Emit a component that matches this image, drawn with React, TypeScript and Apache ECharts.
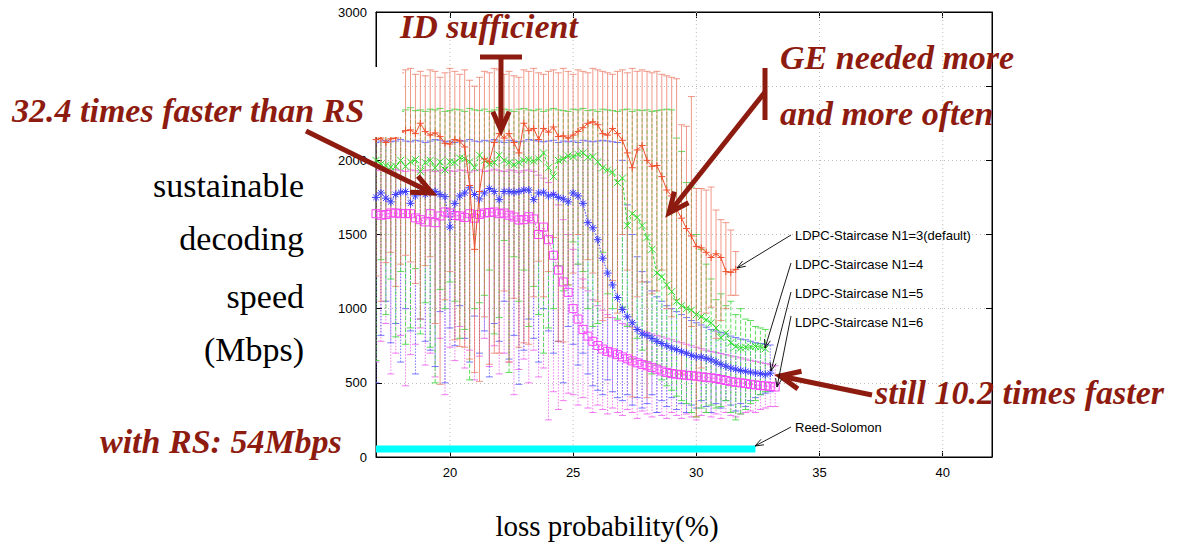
import React, { useEffect, useRef } from 'react';
import * as echarts from 'echarts';

// loss probability (%) sample positions
const xs = [17.0,17.2,17.4,17.6,17.8,18.0,18.2,18.4,18.6,18.8,19.0,19.2,19.4,19.6,19.8,
  20.0,20.2,20.4,20.6,20.8,21.0,21.2,21.4,21.6,21.8,22.0,22.2,22.4,22.6,22.8,23.0,23.2,23.4,23.6,23.8,24.0,24.2,24.4,24.6,24.8,
  25.0,25.2,25.4,25.6,25.8,26.0,26.2,26.4,26.6,26.8,27.0,27.2,27.4,27.6,27.8,28.0,28.2,28.4,28.6,28.8,29.0,29.2,29.4,29.6,29.8,
  30.0,30.2,30.4,30.6,30.8,31.0,31.2,31.4,31.6,31.8,32.0,32.2,32.4,32.6,32.8,33.0,33.2];

const xTickValues = [20, 25, 30, 35, 40];

// LDPC-Staircase N1=3 (default)
const n3Mean = [2140,2150,2120,2145,2150,2190,2200,2205,2180,2250, 2195,2170,2185,2160,2115,2110,2140,2130,2090,1830,
  1400,1790,2010,1990,2120,2180,2150,2180,2120,2050, 2250,2200,2215,2140,2215,2190,2225,2160,2165,2150,
  2170,2195,2220,2250,2260,2240,2180,2170,2215,2180, 2135,2050,1950,2070,2100,2000,1960,1965,1890,1800,
  1760,1670,1610,1540,1490,1420,1410,1380,1345,1370, 1345,1250,1245,1265];
const n3High = [2580,2600,2610,2570,2600,2590,2610,2620,2580,2600, 2570,2610,2600,2560,2590,2620,2600,2580,2610,2540,
  2500,2560,2600,2590,2620,2610,2580,2600,2570,2560, 2610,2600,2620,2590,2580,2600,2610,2590,2620,2600,
  2580,2610,2600,2590,2620,2610,2600,2590,2580,2600, 2610,2590,2620,2600,2610,2600,2590,2600,2580,2570,
  2560,2550,2240,2230,2430,1810,1810,1800,1820,1665, 1600,1580,1530,1385];
const n3Low = [1220,1050,1310,1380,1150,1300,1360,1315,1170,930, 1290,1350,900,490,1060,1250,790,745,740,660,
  570,510,945,625,700,700,1120,640,1070,740, 770,760,1080,1320,1080,1250,1480,780,775,1160,
  1240,1500,1140,1330,1240,1050,920,940,1190,970, 1500,1260,405,1080,1180,400,1100,1120,1260,1000,
  945,1060,560,700,880,270,600,970,1010,800, 920,1000,1090,1090];

// LDPC-Staircase N1=4
const n4Mean = [2000,1975,1965,1955,1960,2000,1960,1990,2005,1925, 1985,2000,1950,1990,1935,1990,1985,2015,2010,1990,
  1950,2035,2000,1975,1985,2035,2000,1985,1970,1985, 2000,2005,1995,2010,2050,1950,1890,2000,2010,2030,
  2025,2040,2050,2020,2025,1990,1950,1935,1920,1850, 1880,1560,1640,1615,1560,1480,1400,1240,1215,1160,
  1115,1050,1020,1000,990,960,945,925,905,870, 805,835,770,745,735,740,742,745,742,730];
const n4High = [2330,2340,2350,2335,2345,2330,2340,2355,2335,2340, 2330,2345,2340,2350,2330,2335,2345,2340,2330,2350,
  2340,2335,2345,2330,2340,2355,2345,2340,2330,2345, 2350,2340,2335,2345,2330,2340,2350,2340,2335,2330,
  2345,2340,2350,2335,2340,2330,2345,2340,2335,2330, 2340,2345,2330,2340,2335,2340,2330,2335,2340,2345,
  2340,2150,2060,1850,1820,1500,1400,1300,1200,1060, 1100,1020,1050,960,1000,930,920,880,870,860];
const n4Low = [650,1330,960,1200,810,1250,760,870,1270,830, 1040,740,500,1130,1000,1180,1050,800,860,520,
  1000,1040,1090,1260,830,940,1460,570,1350,1050, 1260,880,1150,960,700,870,1000,1290,1120,1160,
  1450,1300,1250,1000,880,900,1380,1100,1000,930, 1010,880,660,800,720,640,560,620,520,480,
  450,410,380,360,300,270,330,300,350,330, 340,380,300,250,290,320,360,380,420,440];

// LDPC-Staircase N1=5
const n5Mean = [1750,1780,1745,1720,1770,1785,1790,1710,1760,1785, 1770,1785,1790,1770,1755,1550,1710,1760,1780,1815,
  1770,1740,1780,1810,1790,1735,1790,1790,1785,1790, 1800,1800,1735,1780,1785,1760,1770,1750,1740,1720,
  1780,1760,1710,1580,1545,1465,1340,1240,1160,1075, 995,945,905,860,830,820,800,780,765,750,
  735,725,710,700,685,675,675,665,655,640, 625,612,600,592,583,578,572,566,562,555, 565];
const n5High = [2120,2130,2135,2125,2130,2140,2130,2125,2135,2130, 2120,2130,2140,2135,2125,2130,2120,2135,2130,2140,
  2130,2125,2135,2130,2140,2130,2120,2135,2130,2125, 2130,2140,2135,2130,2125,2130,2135,2120,2130,2125,
  2130,2120,2135,2130,2125,2130,2135,2130,2125,2120, 2000,1700,1500,1350,1250,1180,1120,1080,1050,1020,
  1000,980,960,940,920,905,890,875,860,850, 840,830,815,805,795,790,780,770,765,760, 755];
const n5Low = [500,820,1050,770,900,640,1000,850,560,930, 780,720,610,980,500,870,750,1020,800,640,
  950,700,850,540,900,780,1050,660,820,490, 720,930,800,640,1000,850,700,780,500,880,
  760,620,700,560,480,450,420,520,440,400, 380,420,350,400,330,360,420,300,380,340,
  400,320,360,300,350,330,380,340,300,360, 330,380,350,310,360,340,380,400,420,430, 440];

// LDPC-Staircase N1=6
const n6Mean = [1640,1630,1635,1645,1645,1640,1642,1640,1612,1600, 1585,1640,1580,1625,1652,1645,1628,1625,1615,1640,
  1610,1635,1645,1648,1652,1640,1645,1630,1618,1598, 1600,1620,1605,1500,1550,1465,1360,1260,1180,1110,
  1000,930,860,815,780,752,728,712,702,690, 675,662,648,635,624,615,604,592,580,570,
  563,558,554,551,548,545,540,537,534,529, 522,516,508,504,500,496,490,486,482,479, 476,472];
const n6High = [1930,1935,1925,1930,1940,1930,1925,1935,1930,1920, 1930,1935,1925,1930,1940,1930,1925,1935,1930,1920,
  1930,1935,1925,1930,1940,1930,1925,1935,1930,1920, 1930,1935,1925,1900,1880,1850,1780,1700,1600,1500,
  1400,1300,1200,1120,1060,1020,990,960,940,920, 900,890,875,860,850,840,830,820,810,800,
  790,780,770,760,750,740,730,720,712,705, 698,690,682,675,668,660,652,645,638,630, 622,615];
const n6Low = [640,780,900,560,700,820,480,690,760,870, 620,700,540,800,420,740,650,880,600,720,
  520,680,800,610,750,560,700,640,420,590, 660,500,720,540,600,250,440,320,380,430,
  420,350,400,330,300,350,320,290,330,300, 280,320,300,260,310,290,270,300,280,260,
  300,280,260,290,270,250,280,300,270,290, 260,300,280,270,290,300,310,300,320,330, 340,340];

// Reed-Solomon
const rsX = [17.0, 32.4];
const rsY = [54, 54];

const DARK_RED = '#8e1b0f';

function pts(mean: number[]) {
  return mean.map((v, i) => [xs[i], v]);
}
function bars(low: number[], high: number[]) {
  return low.map((v, i) => [xs[i], v, high[i]]);
}

function errorBarSeries(name: string, data: number[][], color: string, dash: number[] | null, z: number, opacity: number) {
  return {
    type: 'custom',
    name,
    data,
    z,
    clip: true,
    encode: { x: 0, y: [1, 2] },
    renderItem: (params: any, api: any) => {
      const x = api.value(0);
      const lo = api.coord([x, api.value(1)]);
      const hi = api.coord([x, api.value(2)]);
      const cap = 3.5;
      const base = { stroke: color, lineWidth: 1, fill: null, opacity };
      return {
        type: 'group',
        children: [
          { type: 'line', shape: { x1: lo[0], y1: lo[1], x2: hi[0], y2: hi[1] }, style: { ...base, lineDash: dash } },
          { type: 'line', shape: { x1: hi[0] - cap, y1: hi[1], x2: hi[0] + cap, y2: hi[1] }, style: base },
          { type: 'line', shape: { x1: lo[0] - cap, y1: lo[1], x2: lo[0] + cap, y2: lo[1] }, style: base },
        ],
      };
    },
  };
}

function lineSeries(name: string, data: number[][], color: string, symbol: string, size: number, type: any, z: number) {
  return {
    type: 'line',
    name,
    data,
    z,
    symbol,
    symbolSize: size,
    showSymbol: true,
    showAllSymbol: true,
    itemStyle: { color: 'transparent', borderColor: color, borderWidth: 1 },
    lineStyle: { color, width: 1, type },
  };
}

function arrow(x1: number, y1: number, x2: number, y2: number, color: string, lw: number, head: number, spread: number) {
  const a = Math.atan2(y2 - y1, x2 - x1);
  const h1 = [x2 - head * Math.cos(a - spread), y2 - head * Math.sin(a - spread)];
  const h2 = [x2 - head * Math.cos(a + spread), y2 - head * Math.sin(a + spread)];
  return [
    { type: 'line', z: 100, shape: { x1, y1, x2, y2 }, style: { stroke: color, lineWidth: lw } },
    { type: 'polyline', z: 100, shape: { points: [h1, [x2, y2], h2] }, style: { stroke: color, lineWidth: lw, fill: null } },
  ];
}

function txt(text: string, x: number, y: number, font: string, fill: string, align = 'left') {
  return {
    type: 'text', x, y, z: 101,
    style: { text, font, fill, align, textAlign: align, verticalAlign: 'middle', textVerticalAlign: 'middle' },
  };
}

export default function App() {
  const ref = useRef<HTMLDivElement>(null);
  useEffect(() => {
    document.body.style.margin = '0';
    if (!ref.current) return;
    const chart = echarts.init(ref.current, null, { renderer: 'svg' });
    const axisFont = { color: '#000', fontSize: 13, fontFamily: '"Liberation Sans", Arial, sans-serif' };
    const annFont = 'italic bold 34px "Liberation Serif", "Times New Roman", serif';
    const serifFont = '34px "Liberation Serif", "Times New Roman", serif';
    const legFont = '13px "Liberation Sans", Arial, sans-serif';
    const plain = (v: number) => String(v);

    const option: any = {
      animation: false,
      backgroundColor: '#fff',
      grid: { left: 376, right: 187, top: 12, bottom: 89, show: true, borderColor: '#000', borderWidth: 1, backgroundColor: '#fff' },
      xAxis: [
        {
          type: 'value', min: 17, max: 42, position: 'bottom',
          axisLine: { show: true, onZero: false, lineStyle: { color: '#000', width: 1 } },
          axisTick: { show: true, inside: true, length: 6, customValues: xTickValues, lineStyle: { color: '#000' } },
          axisLabel: { ...axisFont, margin: 9, customValues: xTickValues, formatter: plain },
          splitLine: { show: false },
        },
        {
          type: 'value', min: 17, max: 42, position: 'top',
          axisLine: { show: true, onZero: false, lineStyle: { color: '#000', width: 1 } },
          axisTick: { show: true, inside: true, length: 6, customValues: xTickValues, lineStyle: { color: '#000' } },
          axisLabel: { show: false },
          splitLine: { show: false },
        },
      ],
      yAxis: [
        {
          type: 'value', min: 0, max: 3000, interval: 500, position: 'left',
          axisLine: { show: true, onZero: false, lineStyle: { color: '#000', width: 1 } },
          axisTick: { show: true, inside: true, length: 6, lineStyle: { color: '#000' } },
          axisLabel: { ...axisFont, margin: 9, formatter: plain },
          splitLine: { show: true, lineStyle: { color: '#bbbbbb', type: [1, 3], width: 1 } },
        },
        {
          type: 'value', min: 0, max: 3000, interval: 500, position: 'right',
          axisLine: { show: true, onZero: false, lineStyle: { color: '#000', width: 1 } },
          axisTick: { show: true, inside: true, length: 6, lineStyle: { color: '#000' } },
          axisLabel: { show: false },
          splitLine: { show: false },
        },
      ],
      series: [
        {
          type: 'custom', name: 'xgrid', z: 1, data: xTickValues.map((v) => [v]),
          encode: { x: 0 },
          renderItem: (params: any, api: any) => {
            const x = api.value(0);
            const p0 = api.coord([x, 0]);
            const p1 = api.coord([x, 3000]);
            return { type: 'line', shape: { x1: p0[0], y1: p0[1], x2: p1[0], y2: p1[1] }, style: { stroke: '#bbbbbb', lineWidth: 1, lineDash: [1, 3] } };
          },
        },
        errorBarSeries('N1=6 err', bars(n6Low, n6High), '#ee66ee', [1.5, 1.5], 2, 0.85),
        errorBarSeries('N1=5 err', bars(n5Low, n5High), '#6060ff', [1.5, 1.5], 3, 0.85),
        errorBarSeries('N1=4 err', bars(n4Low, n4High), '#40d840', [4, 2], 4, 0.85),
        errorBarSeries('N1=3 err', bars(n3Low, n3High), '#ea6d58', null, 5, 0.7),
        {
          type: 'line', name: 'Reed-Solomon', z: 6, symbol: 'none',
          data: rsX.map((x, i) => [x, rsY[i]]),
          lineStyle: { color: '#00ffff', width: 7 },
        },
        lineSeries('LDPC-Staircase N1=6', pts(n6Mean), '#ff40ff', 'path://M0,0L10,0L10,10L0,10Z', 8, [1.5, 1.5], 7),
        lineSeries('LDPC-Staircase N1=5', pts(n5Mean), '#3c3cff', 'path://M0,5L10,5M5,0L5,10M1.5,1.5L8.5,8.5M8.5,1.5L1.5,8.5', 8, [1.5, 1.5], 8),
        lineSeries('LDPC-Staircase N1=4', pts(n4Mean), '#2ee02e', 'path://M0,0L10,10M10,0L0,10', 7, [3, 2], 9),
        lineSeries('LDPC-Staircase N1=3(default)', pts(n3Mean), '#f0502d', 'path://M0,5L10,5M5,0L5,10', 7, 'solid', 10),
      ],
      graphic: {
        elements: [
          { type: 'rect', z: 99, shape: { x: 0, y: 67, width: 402, height: 70 }, style: { fill: '#fff' } },
          txt('32.4 times faster than RS', 12, 110, annFont, DARK_RED),
          txt('ID sufficient', 400, 26, annFont, DARK_RED),
          txt('GE needed more', 780, 57, annFont, DARK_RED),
          txt('and more often', 780, 113, annFont, DARK_RED),
          txt('still 10.2 times faster', 875, 392, annFont, DARK_RED),
          txt('with RS: 54Mbps', 100, 441, annFont, DARK_RED),
          ...arrow(306, 131, 432, 193, DARK_RED, 5, 22, 0.42),
          { type: 'line', z: 100, shape: { x1: 480, y1: 57, x2: 522, y2: 57 }, style: { stroke: DARK_RED, lineWidth: 5 } },
          ...arrow(501, 57, 501, 130, DARK_RED, 5, 20, 0.42),
          { type: 'line', z: 100, shape: { x1: 765, y1: 68, x2: 765, y2: 120 }, style: { stroke: DARK_RED, lineWidth: 5 } },
          ...arrow(765, 92, 669, 213, DARK_RED, 5, 22, 0.42),
          ...arrow(872, 395, 780, 376, DARK_RED, 5, 22, 0.42),
          txt('sustainable', 304, 185, serifFont, '#000', 'right'),
          txt('decoding', 304, 238, serifFont, '#000', 'right'),
          txt('speed', 304, 296, serifFont, '#000', 'right'),
          txt('(Mbps)', 304, 349, serifFont, '#000', 'right'),
          txt('loss probability(%)', 607, 526, '29px "Liberation Serif", "Times New Roman", serif', '#000', 'center'),
          txt('LDPC-Staircase N1=3(default)', 795, 235, legFont, '#000'),
          txt('LDPC-Staircase N1=4', 795, 264, legFont, '#000'),
          txt('LDPC-Staircase N1=5', 795, 293, legFont, '#000'),
          txt('LDPC-Staircase N1=6', 795, 322, legFont, '#000'),
          txt('Reed-Solomon', 795, 427, legFont, '#000'),
          ...arrow(791, 235, 737, 268, '#000', 0.9, 9, 0.35),
          ...arrow(791, 263, 765, 348, '#000', 0.9, 9, 0.35),
          ...arrow(791, 292, 771, 371, '#000', 0.9, 9, 0.35),
          ...arrow(791, 316, 777, 387, '#000', 0.9, 9, 0.35),
          ...arrow(791, 427, 755, 446, '#000', 0.9, 9, 0.35),
        ],
      },
    };
    chart.setOption(option);
    return () => chart.dispose();
  }, []);
  return <div ref={ref} style={{ width: 1179, height: 546 }} />;
}
